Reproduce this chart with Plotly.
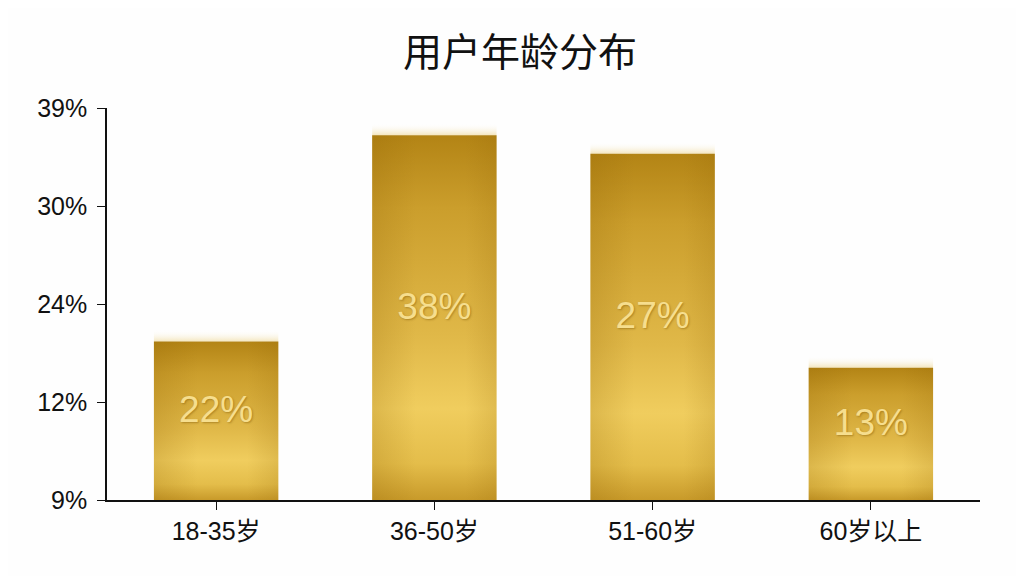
import numpy as np
import plotly.graph_objects as go

# 数据
age_groups = ['18-35岁', '36-50岁', '51-60岁', '60岁以上']
label_text = ['22%', '38%', '27%', '13%']
# 柱子顶端在纵轴上的读数（纵轴刻度不是等距的）
bar_values = [19.4, 36.5, 34.8, 16.2]
tick_values = [9, 12, 24, 30, 39]
tick_labels = ['9%', '12%', '24%', '30%', '39%']

# 纵轴：刻度等距摆放，数值分段线性映射
tick_pos = list(range(len(tick_values)))
bar_heights = np.interp(bar_values, tick_values, tick_pos)

bar_w = 0.57
font_num = 'Liberation Sans, Noto Sans CJK SC, sans-serif'
font_cjk = 'Noto Sans CJK SC, sans-serif'

fig = go.Figure()

for i, h in enumerate(bar_heights):
    x0, x1 = i - bar_w / 2, i + bar_w / 2
    # 顶部的柔光
    fig.add_trace(go.Scatter(
        x=[x0, x1, x1, x0, x0], y=[h, h, h + 0.12, h + 0.12, h],
        fill='toself', mode='none', hoverinfo='skip', showlegend=False,
        fillgradient=dict(type='vertical', start=h, stop=h + 0.12,
                          colorscale=[[0, 'rgba(225,185,70,0.35)'],
                                      [1, 'rgba(255,255,255,0)']])))
    # 金色柱子（纵向渐变）
    fig.add_trace(go.Scatter(
        x=[x0, x1, x1, x0, x0], y=[0, 0, h, h, 0],
        fill='toself', mode='none', hoverinfo='skip', showlegend=False,
        fillgradient=dict(type='vertical', start=0, stop=h,
                          colorscale=[[0, '#c89a2a'], [0.1, '#e4bd4a'],
                                      [0.25, '#f0cd5e'], [0.45, '#e0b848'],
                                      [0.8, '#cb9e2c'], [1, '#b38415']])))
    # 左右两侧略暗
    fig.add_trace(go.Scatter(
        x=[x0, x1, x1, x0, x0], y=[0, 0, h, h, 0],
        fill='toself', mode='none', hoverinfo='skip', showlegend=False,
        fillgradient=dict(type='horizontal', start=x0, stop=x1,
                          colorscale=[[0, 'rgba(140,95,0,0.2)'],
                                      [0.35, 'rgba(140,95,0,0)'],
                                      [0.75, 'rgba(140,95,0,0)'],
                                      [1, 'rgba(140,95,0,0.16)']])))

# 柱内百分比
fig.add_trace(go.Scatter(
    x=list(range(len(age_groups))), y=bar_heights / 2 + 0.08,
    mode='text', text=label_text, hoverinfo='skip', showlegend=False,
    textfont=dict(family=font_num, size=37, color='#f6de8e',
                  shadow='1px 1px 2px rgba(120,80,0,0.45)')))

fig.update_layout(
    width=1024, height=576,
    paper_bgcolor='#fefefe', plot_bgcolor='#fefefe',
    margin=dict(l=99, r=52, t=100, b=84),
    title=dict(text='用户年龄分布', x=0.5, xanchor='center',
               y=1 - 44 / 576, yref='container', yanchor='middle',
               font=dict(family=font_cjk, size=39, color='#111111')),
    xaxis=dict(range=[-0.5, 3.5], tickmode='array',
               tickvals=list(range(len(age_groups))), ticktext=age_groups,
               showgrid=False, zeroline=False, showline=True,
               linecolor='#111111', linewidth=1.5,
               ticks='outside', ticklen=8, tickcolor='#111111',
               tickfont=dict(family=font_num, size=25, color='#111111')),
    yaxis=dict(range=[0, 4], tickmode='array', tickvals=tick_pos,
               ticktext=tick_labels, showgrid=False, zeroline=False,
               showline=True, linecolor='#111111', linewidth=1.5,
               ticks='outside', ticklen=8, tickcolor='#111111',
               ticklabelstandoff=5,
               tickfont=dict(family=font_num, size=25, color='#111111')),
)

fig.write_html('out.html')
